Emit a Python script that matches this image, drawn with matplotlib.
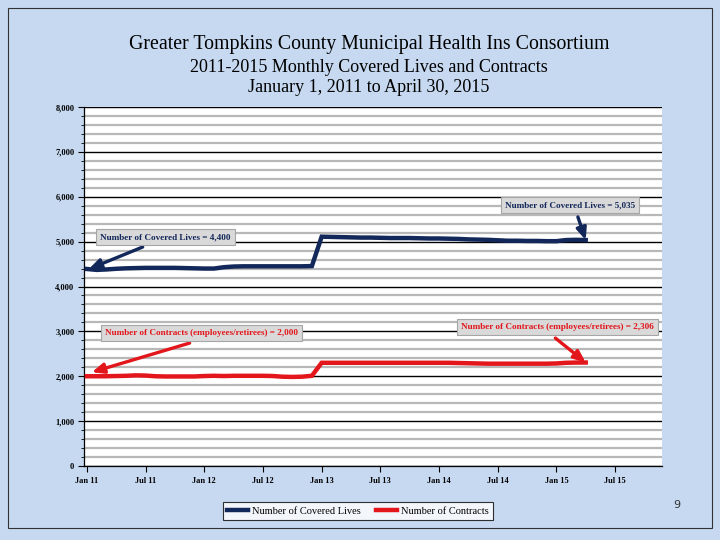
import numpy as np
import matplotlib
matplotlib.use("Agg")
import matplotlib.pyplot as plt
from matplotlib.patches import Rectangle
from matplotlib.ticker import MultipleLocator, FuncFormatter

# Monthly values, Jan 2011 .. Apr 2015 (52 months)
covered_lives = [
    4390, 4370, 4380, 4395, 4405, 4410, 4415, 4415, 4415, 4415, 4410, 4405,   # 2011
    4400, 4400, 4430, 4445, 4450, 4450, 4450, 4450, 4450, 4450, 4450, 4455,   # 2012
    5110, 5105, 5100, 5095, 5090, 5090, 5085, 5080, 5080, 5080, 5075, 5070,   # 2013
    5070, 5065, 5060, 5050, 5045, 5040, 5030, 5020, 5020, 5015, 5015, 5010,   # 2014
    5010, 5035, 5040, 5035,                                                   # 2015
]
contracts = [
    2000, 2000, 2000, 2005, 2010, 2020, 2015, 2000, 1995, 1995, 1995, 1995,
    2005, 2010, 2005, 2010, 2010, 2010, 2010, 2005, 1990, 1985, 1990, 2010,
    2300, 2300, 2300, 2300, 2300, 2300, 2300, 2300, 2300, 2300, 2300, 2300,
    2300, 2300, 2295, 2290, 2285, 2280, 2280, 2280, 2280, 2280, 2280, 2280,
    2285, 2300, 2305, 2306,
]
tick_labels = ["Jan 11", "Jul 11", "Jan 12", "Jul 12", "Jan 13", "Jul 13",
               "Jan 14", "Jul 14", "Jan 15", "Jul 15"]
title_lines = ["Greater Tompkins County Municipal Health Ins Consortium",
               "2011-2015 Monthly Covered Lives and Contracts",
               "January 1, 2011 to April 30, 2015"]

NAVY = "#13285a"
RED = "#e3161b"
BG = "#c6d9f0"
SERIF = "Liberation Serif"

months = np.arange(len(covered_lives))

fig = plt.figure(figsize=(7.2, 5.4), dpi=100, facecolor=BG)
fig.patches.append(Rectangle((8 / 720, 12 / 540), 704 / 720, 520 / 540,
                             transform=fig.transFigure, fill=False,
                             edgecolor="#333333", lw=0.8))

ax = fig.add_axes([84 / 720, 74 / 540, 578 / 720, 359 / 540])
ax.set_facecolor("white")

ax.plot(months, covered_lives, color=NAVY, lw=3.2, solid_joinstyle="miter",
        label="Number of Covered Lives", zorder=4)
ax.plot(months, contracts, color=RED, lw=3.2, solid_joinstyle="miter",
        label="Number of Contracts", zorder=4)

ax.set_xlim(-0.3, 58.8)
ax.set_ylim(0, 8000)
ax.set_xticks(np.arange(0, 60, 6))
ax.set_xticklabels(tick_labels)
ax.yaxis.set_major_locator(MultipleLocator(1000))
ax.yaxis.set_minor_locator(MultipleLocator(200))
ax.yaxis.set_major_formatter(FuncFormatter(lambda v, p: f"{int(v):,}"))
ax.grid(which="minor", axis="y", color="#b8b8b8", lw=1.6, zorder=1)
ax.grid(which="major", axis="y", color="black", lw=1.0, zorder=2)
ax.set_axisbelow(True)
for lab in ax.get_xticklabels() + ax.get_yticklabels():
    lab.set_fontfamily(SERIF)
    lab.set_fontweight("bold")
    lab.set_fontsize(6)
ax.tick_params(axis="y", which="major", length=4, width=0.8, pad=3)
ax.tick_params(axis="y", which="minor", length=2, width=0.6)
ax.tick_params(axis="x", length=4, width=0.8, pad=4)
for s in ("top", "right"):
    ax.spines[s].set_visible(False)
ax.spines["left"].set_linewidth(0.9)
ax.spines["bottom"].set_linewidth(0.9)

# title lines
for txt, ypix, fs in zip(title_lines, (44, 67, 88), (14.3, 13, 13)):
    fig.text(369 / 720, 1 - ypix / 540, txt, ha="center", va="center",
             fontsize=fs, fontfamily=SERIF)

# callout boxes with arrows
box = dict(boxstyle="square,pad=0.45", fc="#d9d9d9", ec="#a6a6a6", lw=0.8)
arrow_kw = dict(arrowstyle="-|>,head_length=0.7,head_width=0.3", lw=2.4,
                shrinkA=0, shrinkB=0)
last = len(covered_lives) - 1
callouts = [
    ("Number of Covered Lives = 4,400", (8.0, 5100), (5.7, 4880),
     (0.2, covered_lives[0]), NAVY),
    ("Number of Covered Lives = 5,035", (49.4, 5810), (50.2, 5550),
     (last, covered_lives[last]), NAVY),
    ("Number of Contracts (employees/retirees) = 2,000", (11.7, 2960),
     (10.5, 2740), (0.5, contracts[0] + 90), RED),
    ("Number of Contracts (employees/retirees) = 2,306", (48.1, 3100),
     (47.9, 2850), (last, contracts[last]), RED),
]
for text, pos, tail, tip, col in callouts:
    ax.text(pos[0], pos[1], text, ha="center", va="center", fontsize=6.6,
            fontweight="bold", fontfamily=SERIF, color=col, bbox=box, zorder=6)
    ax.annotate("", xy=tip, xytext=tail,
                arrowprops=dict(color=col, **arrow_kw), zorder=5)

leg = fig.legend(loc="center", bbox_to_anchor=(358 / 720, 1 - 511 / 540),
                 ncol=2, frameon=True, fancybox=False, edgecolor="black",
                 facecolor="white", prop={"family": SERIF, "size": 7.5},
                 handlelength=2.0, handletextpad=0.4, columnspacing=1.4,
                 borderpad=0.45)
leg.get_frame().set_linewidth(0.8)

fig.text(677 / 720, 1 - 505 / 540, "9", ha="center", va="center", fontsize=8,
         fontfamily="DejaVu Sans", color="#333333")

fig.savefig("out.png", dpi=100, facecolor=BG)
